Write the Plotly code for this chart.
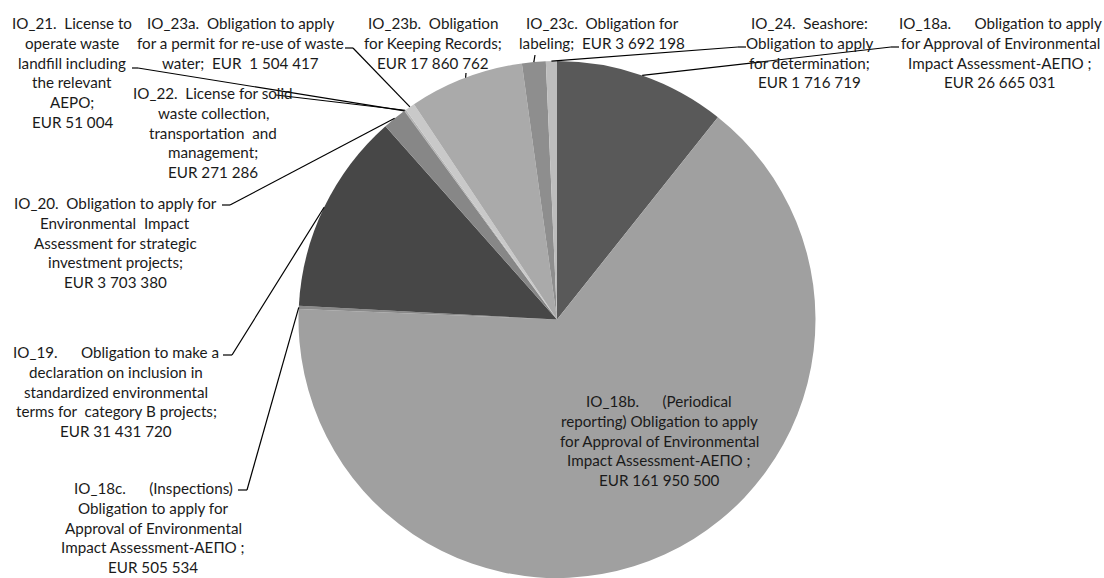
import math
import plotly.graph_objects as go

W, H = 1104, 578

# ---------------- data ----------------
codes = ["IO_18a", "IO_18b", "IO_18c", "IO_19", "IO_20", "IO_21",
         "IO_22", "IO_23a", "IO_23b", "IO_23c", "IO_24"]
values = [26665031, 161950500, 505534, 31431720, 3703380, 51004,
          271286, 1504417, 17860762, 3692198, 1716719]
colors = ["#595959", "#a0a0a0", "#8a8a8a", "#474747", "#878787", "#6a6a6a",
          "#b4b4b4", "#c9c9c9", "#aaaaaa", "#8e8e8e", "#bdbdbd"]

NB = "\u00a0"
label_lines = {
    "IO_18a": ["IO_18a." + NB * 5 + " Obligation to apply", "for Approval of Environmental",
               "Impact Assessment-AEПO ;", "EUR {eur}"],
    "IO_18b": ["IO_18b." + NB * 5 + " (Periodical", "reporting) Obligation to apply",
               "for Approval of Environmental", "Impact Assessment-AEПO ;", "EUR {eur}"],
    "IO_18c": ["IO_18c." + NB * 5 + " (Inspections)", "Obligation to apply for",
               "Approval of Environmental", "Impact Assessment-AEПO ;", "EUR {eur}"],
    "IO_19": ["IO_19." + NB * 5 + " Obligation to make a", "declaration on inclusion in",
              "standardized environmental", "terms for" + NB + " category B projects;", "EUR {eur}"],
    "IO_20": ["IO_20." + NB + " Obligation to apply for", "Environmental" + NB + " Impact",
              "Assessment for strategic", "investment projects;", "EUR {eur}"],
    "IO_21": ["IO_21." + NB + " License to", "operate waste", "landfill including",
              "the relevant", "AEPO;", "EUR {eur}"],
    "IO_22": ["IO_22." + NB + " License for solid", "waste collection,",
              "transportation" + NB + " and", "management;", "EUR {eur}"],
    "IO_23a": ["IO_23a." + NB + " Obligation to apply", "for a permit for re-use of waste",
               "water;" + NB + " EUR" + NB + " {eur}"],
    "IO_23b": ["IO_23b." + NB + " Obligation", "for Keeping Records;", "EUR {eur}"],
    "IO_23c": ["IO_23c." + NB + " Obligation for", "labeling;" + NB + " EUR {eur}"],
    "IO_24": ["IO_24." + NB + " Seashore:", "Obligation to apply", "for determination;", "EUR {eur}"],
}

# ---------------- layout (pixels) ----------------
PIE_X = (298, 816)
PIE_TOP = 61
CX = (PIE_X[0] + PIE_X[1]) / 2
R = min(PIE_X[1] - PIE_X[0], H - PIE_TOP) / 2
CY = PIE_TOP + R

label_pos = {  # centre x, first line y
    "IO_18a": (1000, 23), "IO_18b": (659, 401), "IO_18c": (153, 488),
    "IO_19": (116, 352), "IO_20": (115, 203), "IO_21": (72, 23),
    "IO_22": (213, 93), "IO_23a": (240, 23), "IO_23b": (433, 23),
    "IO_23c": (602, 23), "IO_24": (809, 23),
}
LINE_H = 19.8
leaders = {  # points from the label side toward the slice
    "IO_18a": [(899, 47), (891, 47)],
    "IO_24": [(746, 47), (738, 47)],
    "IO_23c": [(535, 55)],
    "IO_23b": [(466, 73)],
    "IO_23a": [(345, 48), (353, 48)],
    "IO_22": [(276, 95)],
    "IO_21": [(132, 68), (138, 68)],
    "IO_20": [(222, 205), (230, 205)],
    "IO_19": [(223, 355), (232, 355)],
    "IO_18c": [(238, 490), (247, 490)],
}

FONT = dict(family="Lato, 'Open Sans', sans-serif", size=15.2, color="#1a1a1a")


def px(x):
    return x / W


def py(y):
    return 1 - y / H


fig = go.Figure(go.Pie(
    labels=codes, values=values, sort=False, direction="clockwise", rotation=0,
    marker=dict(colors=colors, line=dict(width=0)),
    textinfo="none", hoverinfo="label+value", showlegend=False,
    domain=dict(x=[px(PIE_X[0]), px(PIE_X[1])], y=[0, py(PIE_TOP)]),
))

total = sum(values)
cum = 0
shapes = []
annotations = []
for code, v in zip(codes, values):
    mid = (cum + v / 2) / total * 2 * math.pi
    cum += v
    sx = CX + R * math.sin(mid)
    sy = CY - R * math.cos(mid)
    if code in leaders:
        pts = leaders[code] + [(sx, sy)]
        for (x0, y0), (x1, y1) in zip(pts[:-1], pts[1:]):
            shapes.append(dict(type="line", xref="paper", yref="paper",
                               x0=px(x0), y0=py(y0), x1=px(x1), y1=py(y1),
                               line=dict(color="#000000", width=1.2)))
    eur = f"{v:,}".replace(",", " ")
    lx, ly = label_pos[code]
    for i, t in enumerate(label_lines[code]):
        annotations.append(dict(xref="paper", yref="paper", x=px(lx), y=py(ly + i * LINE_H),
                                text=t.format(eur=eur), showarrow=False,
                                xanchor="center", yanchor="middle", font=FONT))

fig.update_layout(width=W, height=H, margin=dict(l=0, r=0, t=0, b=0),
                  paper_bgcolor="white", plot_bgcolor="white",
                  shapes=shapes, annotations=annotations)

fig.write_html("out.html", config={"displayModeBar": False},
               post_script="document.body.style.margin='0';document.body.style.padding='0';")
